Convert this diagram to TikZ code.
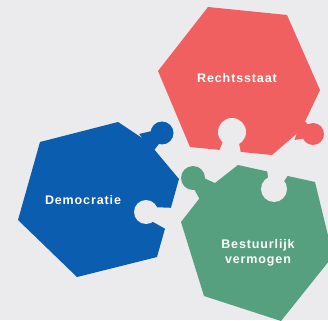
\documentclass[tikz,border=0pt]{standalone}
\usepackage{fontspec}
\newfontfamily\piecefont{Liberation Sans}[LetterSpace=7.0]
\usetikzlibrary{calc}
\definecolor{bgcol}{HTML}{EBEBED}
\definecolor{rechtscol}{HTML}{F06060}
\definecolor{democol}{HTML}{0A5DAF}
\definecolor{bestuurcol}{HTML}{56A07F}
\tikzset{
  piece text/.style={text=white, font=\piecefont\bfseries\fontsize{12.5}{15.5}\selectfont, align=center},
}
% neck of a knob or a hole: colour, circle centre, foot on the edge
\newcommand{\puzzleneck}[3]{%
  \coordinate (nb) at ($(#3)!-3pt!(#2)$);
  \coordinate (nm) at ($(#2)!7pt!(#3)$);
  \fill[#1] ($(nb)!11.5pt!90:(#2)$) -- ($(nm)!7pt!90:(#2)$)
    -- ($(nm)!7pt!-90:(#2)$) -- ($(nb)!11.5pt!-90:(#2)$) -- cycle;
}

\begin{document}
\begin{tikzpicture}[x=1pt,y=-1pt]
  \fill[bgcol] (0,0) rectangle (328,320);
  \useasboundingbox (0,0) rectangle (328,320);

  % Rechtsstaat
  \coordinate (r1) at (208,7);
  \coordinate (r2) at (287,15);
  \coordinate (r3) at (320,90);
  \coordinate (rk) at (301,130);
  \coordinate (r4) at (272,155);
  \coordinate (r5) at (190,147);
  \coordinate (r6) at (158,71);
  \fill[rechtscol] (r1) -- (r2) -- (r3) -- (rk) -- (r4) -- (r5) -- (r6) -- cycle;
  \coordinate (rtab) at (313,134);
  \fill[rechtscol] (rtab) circle (11pt);
  \puzzleneck{rechtscol}{rtab}{rk}
  \coordinate (rhole) at (232,132);
  \coordinate (rholefoot) at ($(r4)!(rhole)!(r5)$);
  \fill[bgcol] (rhole) circle (14pt);
  \puzzleneck{bgcol}{rhole}{rholefoot}
  \node[piece text] (recht) at (237,78) {Rechtsstaat};

  % Democratie
  \coordinate (d1) at (40,142);
  \coordinate (d2) at (118,122);
  \coordinate (dk) at (148,142);
  \coordinate (d3) at (179,179);
  \coordinate (d4) at (157,257);
  \coordinate (d5) at (77,277);
  \coordinate (d6) at (18,220);
  \fill[democol] (d1) -- (d2) -- (dk) -- (d3) -- (d4) -- (d5) -- (d6) -- cycle;
  \coordinate (dtab) at (162,133);
  \fill[democol] (dtab) circle (11.5pt);
  \puzzleneck{democol}{dtab}{dk}
  \coordinate (dhole) at (146,212);
  \coordinate (dholefoot) at ($(d3)!(dhole)!(d4)$);
  \fill[bgcol] (dhole) circle (12pt);
  \puzzleneck{bgcol}{dhole}{dholefoot}
  \node[piece text] (demo) at (83,200) {Democratie};

  % Bestuurlijk vermogen
  \coordinate (b1) at (238,165);
  \coordinate (b2) at (315,182);
  \coordinate (b3) at (333,256);
  \coordinate (b4) at (281,321);
  \coordinate (b5) at (204,296);
  \coordinate (b6) at (181,222);
  \coordinate (bk) at (206,190);
  \fill[bestuurcol] (b1) -- (b2) -- (b3) -- (b4) -- (b5) -- (b6) -- (bk) -- cycle;
  \coordinate (btab) at (193,178);
  \fill[bestuurcol] (btab) circle (12pt);
  \puzzleneck{bestuurcol}{btab}{bk}
  \coordinate (bhole) at (274,189);
  \coordinate (bholefoot) at ($(b1)!(bhole)!(b2)$);
  \fill[bgcol] (bhole) circle (13pt);
  \puzzleneck{bgcol}{bhole}{bholefoot}
  \node[piece text] (bestuur) at (258,253) {Bestuurlijk\\vermogen};
\end{tikzpicture}
\end{document}
